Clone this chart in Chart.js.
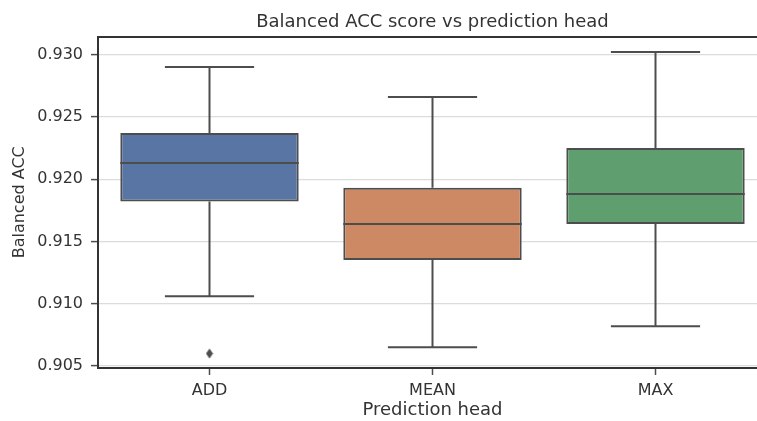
<!DOCTYPE html>
<html>
<head>
<meta charset="utf-8">
<script src="https://cdn.jsdelivr.net/npm/chart.js@4.4.0/dist/chart.umd.min.js"></script>
<style>
  html, body { margin: 0; padding: 0; background: #fff; overflow: hidden; }
  #wrap { width: 757px; height: 421px; overflow: hidden; }
</style>
</head>
<body>
<div id="wrap"><canvas id="chart" width="772" height="421"></canvas></div>
<script>
// box plot stats per prediction head
var categories = ['ADD', 'MEAN', 'MAX'];
var whiskerLow = [0.9106, 0.9065, 0.9082];
var q1 = [0.9182, 0.9135, 0.9164];
var median = [0.9213, 0.9164, 0.9188];
var q3 = [0.9237, 0.9193, 0.9225];
var whiskerHigh = [0.9290, 0.9266, 0.9302];
var outliers = [[0.9060], [], []];
var yTicks = [0.905, 0.910, 0.915, 0.920, 0.925, 0.930];

var boxColors = ['#5875a4', '#cc8963', '#5f9e6e'];
var lineColor = '#4d4d4d';
var textColor = '#333333';
var tickFont = { family: 'DejaVu Sans', size: 16 };
var labelFont = { family: 'DejaVu Sans', size: 18 };

// thin diamond marker like seaborn's "d"
var diamond = document.createElement('canvas');
diamond.width = 8; diamond.height = 11;
(function() {
  var c = diamond.getContext('2d');
  c.fillStyle = lineColor;
  c.beginPath();
  c.moveTo(4, 0.5); c.lineTo(7.5, 5.5); c.lineTo(4, 10.5); c.lineTo(0.5, 5.5);
  c.closePath();
  c.fill();
})();

var gap = function(x) { return { x: x, y: null }; };

var boxData = categories.map(function(c, i) {
  return { x: i, y: [q1[i], q3[i]] };
});

var whiskerData = [];
var medianData = [];
categories.forEach(function(c, i) {
  whiskerData.push({ x: i, y: q3[i] }, { x: i, y: whiskerHigh[i] }, gap(i));
  whiskerData.push({ x: i - 0.2, y: whiskerHigh[i] }, { x: i + 0.2, y: whiskerHigh[i] }, gap(i));
  whiskerData.push({ x: i, y: whiskerLow[i] }, { x: i, y: q1[i] }, gap(i));
  whiskerData.push({ x: i - 0.2, y: whiskerLow[i] }, { x: i + 0.2, y: whiskerLow[i] }, gap(i));
  medianData.push({ x: i - 0.4, y: median[i] }, { x: i + 0.4, y: median[i] }, gap(i));
});

var outlierData = [];
outliers.forEach(function(list, i) {
  list.forEach(function(v) { outlierData.push({ x: i, y: v }); });
});

new Chart(document.getElementById('chart').getContext('2d'), {
  type: 'bar',
  data: {
    datasets: [
      {
        type: 'line',
        data: whiskerData,
        borderColor: lineColor,
        borderWidth: 2,
        pointRadius: 0,
        spanGaps: false,
        order: 3
      },
      {
        type: 'bar',
        data: boxData,
        backgroundColor: boxColors,
        borderColor: lineColor,
        borderWidth: 2,
        borderSkipped: false,
        barPercentage: 0.8,
        categoryPercentage: 1,
        order: 2
      },
      {
        type: 'line',
        data: medianData,
        borderColor: lineColor,
        borderWidth: 2,
        pointRadius: 0,
        spanGaps: false,
        order: 1
      },
      {
        type: 'scatter',
        data: outlierData,
        pointStyle: diamond,
        order: 0
      }
    ]
  },
  options: {
    responsive: false,
    animation: false,
    layout: { padding: { left: 0, right: 3, top: 4, bottom: 0 } },
    plugins: {
      legend: { display: false },
      tooltip: { enabled: false },
      title: {
        display: true,
        text: 'Balanced ACC score vs prediction head',
        color: textColor,
        font: { family: 'DejaVu Sans', size: 18, weight: 'normal' },
        fullSize: false,
        padding: { top: 8, bottom: 3 }
      }
    },
    scales: {
      x: {
        type: 'linear',
        position: 'bottom',
        min: -0.5,
        max: 2.5,
        offset: false,
        afterBuildTicks: function(scale) {
          scale.ticks = categories.map(function(c, i) { return { value: i }; });
        },
        afterFit: function(scale) { scale.height = 53; },
        ticks: {
          color: textColor,
          font: tickFont,
          padding: 6,
          maxRotation: 0,
          callback: function(v) { return categories[v]; }
        },
        grid: { offset: false, drawOnChartArea: false, tickColor: lineColor, tickLength: 7, tickWidth: 1.5 },
        border: { color: '#333333', width: 2 },
        title: { display: true, text: 'Prediction head', color: textColor, font: labelFont, padding: { top: 2, bottom: 0 } }
      },
      xTop: {
        type: 'linear',
        position: 'top',
        min: -0.5,
        max: 2.5,
        ticks: { display: false },
        grid: { offset: false, drawOnChartArea: false, drawTicks: false },
        border: { color: '#333333', width: 2 }
      },
      y: {
        min: 0.90484,
        max: 0.93144,
        afterBuildTicks: function(scale) {
          scale.ticks = yTicks.map(function(v) { return { value: v }; });
        },
        afterFit: function(scale) { scale.width = 98; },
        ticks: {
          color: textColor,
          font: tickFont,
          padding: 8,
          callback: function(v) { return v.toFixed(3); }
        },
        grid: { color: '#dcdcdc', lineWidth: 1.2, tickColor: lineColor, tickLength: 7, tickWidth: 1.5 },
        border: { color: '#333333', width: 2 },
        title: { display: true, text: 'Balanced ACC', color: textColor, font: tickFont, padding: { top: 10, bottom: 0 } }
      }
    }
  }
});
</script>
</body>
</html>
